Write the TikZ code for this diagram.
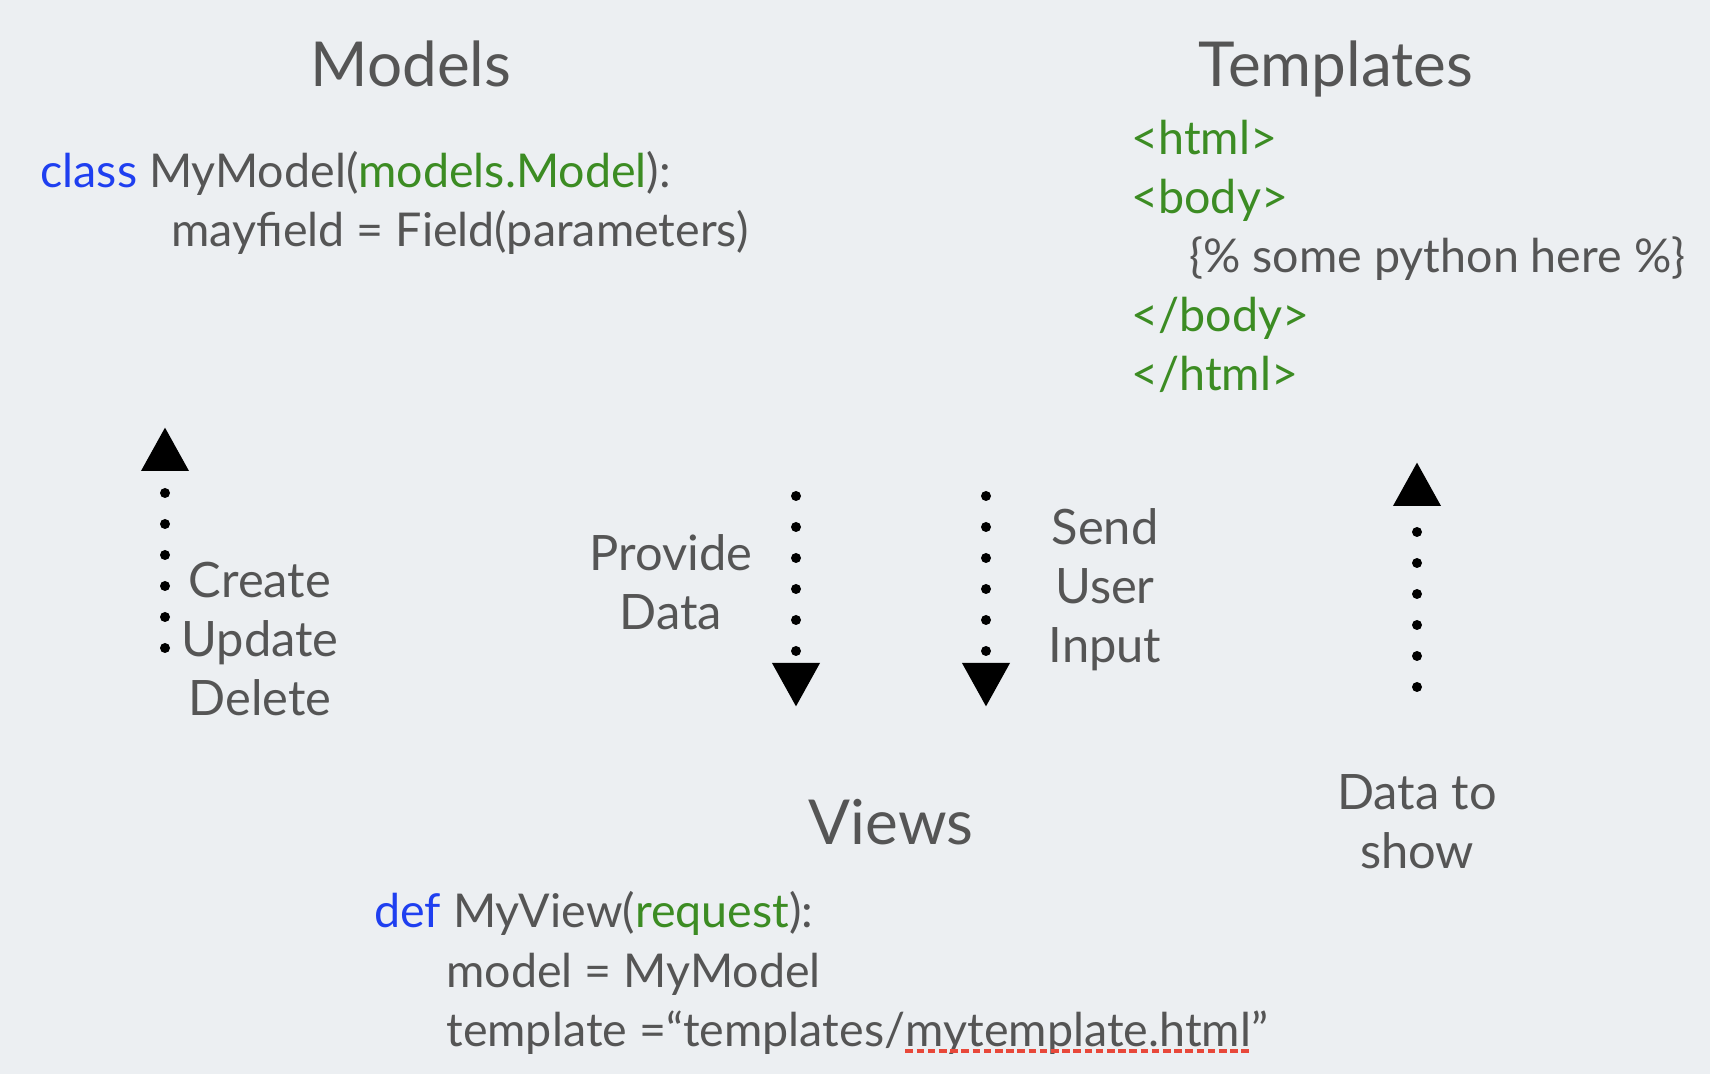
\documentclass[tikz,border=0pt]{standalone}
\usepackage{fontspec}
\setmainfont{Lato}
\usepackage{xcolor}
\usetikzlibrary{arrows.meta, positioning}
\definecolor{bggray}{HTML}{ECEFF2}
\definecolor{txtgray}{HTML}{555555}
\definecolor{kwblue}{HTML}{1F3FF0}
\definecolor{strgreen}{HTML}{3C8C23}
\definecolor{spellred}{HTML}{E8483A}
\tikzset{
    title/.style={font=\fontsize{31}{36}\selectfont, text=txtgray, inner sep=0pt, anchor=base},
    code/.style={font=\fontsize{23.3}{29.5}\selectfont, text=txtgray, inner sep=0pt, anchor=base west},
    note/.style={font=\fontsize{24.4}{29.5}\selectfont, text=txtgray, inner sep=0pt, align=center},
    flow/.style={line width=5pt, line cap=round, dash pattern=on 0pt off 15.5pt, -{Triangle[width=22.5pt, length=22pt]}},
    spell/.style={draw=spellred, line width=2.2pt, dash pattern=on 3.8pt off 1.8pt}
}
\newcommand{\kw}[1]{\textcolor{kwblue}{#1}}
\newcommand{\param}[1]{\textcolor{strgreen}{#1}}

\begin{document}
\begin{tikzpicture}[x=0.5pt, y=-0.5pt]
    \fill[bggray] (0,0) rectangle (1710,1074);
    \useasboundingbox (0,0) rectangle (1710,1074);

    % --- Models ---
    \node (models) [title] at (411,87) {Models};
    \node (clsLine) [code] at (40,188) {\kw{class} MyModel(\param{models.Model}):};
    \node (fldLine) [code] at (171,247) {mayfield = Field(parameters)};

    % --- Templates ---
    \node (templates) [title] at (1336,87) {Templates};
    \node (htmlOpen) [code, text=strgreen] at (1131,155) {<html>};
    \node (bodyOpen) [code, text=strgreen] at (1131,214) {<body>};
    \node (pyLine) [code] at (1189,273) {\{\% some python here \%\}};
    \node (bodyClose) [code, text=strgreen] at (1131,332) {</body>};
    \node (htmlClose) [code, text=strgreen] at (1131,391) {</html>};

    % --- Views ---
    \node (views) [title] at (891,845) {Views};
    \node (defLine) [code] at (374,928) {\kw{def} MyView(\param{request}):};
    \node (modelLine) [code] at (446,987) {model = MyModel};
    \node (tplLine) [code] at (446,1046) {template =“templates/};
    \node (tplFile) [code] at (tplLine.base east) {mytemplate.html};
    \node (tplQuote) [code] at (tplFile.base east) {”};
    \draw [spell] ([yshift=-2.5pt]tplFile.base west) -- ([yshift=-2.5pt]tplFile.base east);

    % --- Labels ---
    \node (cud) [note] at (260,639) {Create\\Update\\Delete};
    \node (provide) [note] at (671,582) {Provide\\Data};
    \node (send) [note] at (1105,590) {Send\\User\\Input};
    \node (toshow) [note] at (1417,822) {Data to\\show};

    % --- Flows ---
    \coordinate (cudFrom) at (165,648);
    \coordinate (cudTo) at (165,427);
    \coordinate (provFrom) at (796,496);
    \coordinate (provTo) at (796,707);
    \coordinate (sendFrom) at (986,496);
    \coordinate (sendTo) at (986,707);
    \coordinate (showFrom) at (1417,687);
    \coordinate (showTo) at (1417,462);

    \draw [flow] (cudFrom) -- (cudTo);
    \draw [flow] (provFrom) -- (provTo);
    \draw [flow] (sendFrom) -- (sendTo);
    \draw [flow] (showFrom) -- (showTo);
\end{tikzpicture}
\end{document}
